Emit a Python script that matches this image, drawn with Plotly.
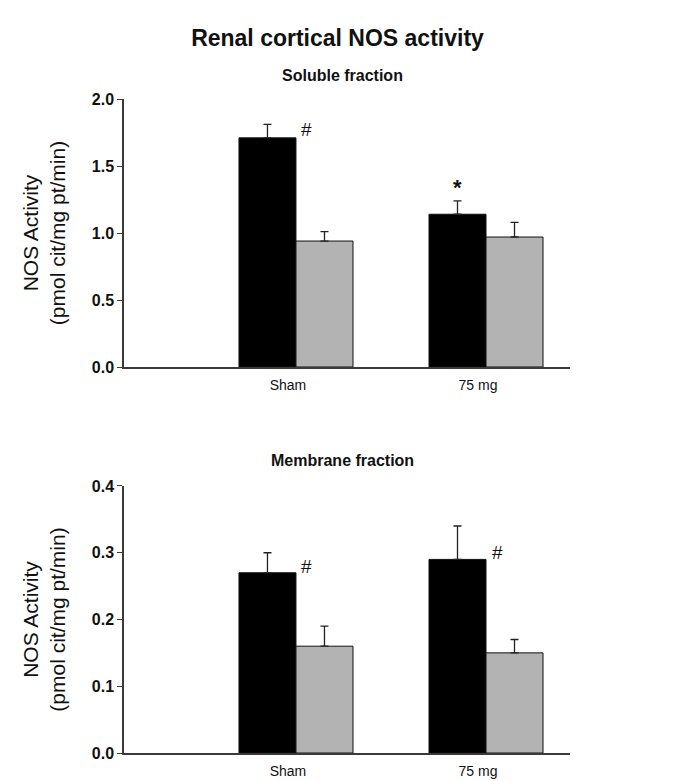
import plotly.graph_objects as go
from plotly.subplots import make_subplots

# ---- data ----
categories = ["Sham", "75 mg"]
cat_pos = [1, 2]

soluble_black = [1.71, 1.14]
soluble_black_err = [0.10, 0.10]
soluble_gray = [0.94, 0.97]
soluble_gray_err = [0.07, 0.11]

membrane_black = [0.27, 0.29]
membrane_black_err = [0.03, 0.05]
membrane_gray = [0.16, 0.15]
membrane_gray_err = [0.03, 0.02]

soluble_ticks = [0.0, 0.5, 1.0, 1.5, 2.0]
membrane_ticks = [0.0, 0.1, 0.2, 0.3, 0.4]

FONT = "Liberation Sans, Arial, sans-serif"
BLACK = "#000000"
GRAY = "#b3b3b3"
AXIS = "#3a3a3a"

fig = make_subplots(rows=2, cols=1, vertical_spacing=0.0)

def add_bars(row, blk, blk_err, gry, gry_err):
    for vals, errs, col in ((blk, blk_err, BLACK), (gry, gry_err, GRAY)):
        fig.add_trace(go.Bar(
            x=cat_pos, y=vals, marker=dict(color=col, line=dict(color="#111111", width=1)),
            error_y=dict(type="data", array=errs, symmetric=False, arrayminus=[0] * len(errs),
                         color="#222222", thickness=1.3, width=4),
            showlegend=False, hoverinfo="skip",
        ), row=row, col=1)

add_bars(1, soluble_black, soluble_black_err, soluble_gray, soluble_gray_err)
add_bars(2, membrane_black, membrane_black_err, membrane_gray, membrane_gray_err)

ytitle = "NOS Activity<br>(pmol cit/mg pt/min)"
top_dom = [0.5902, 1.0]
bot_dom = [0.0, 0.4083]

xcommon = dict(range=[0.095, 2.442], tickvals=cat_pos, ticktext=categories, ticks="",
               showline=True, linecolor=AXIS, linewidth=1.5, showgrid=False, zeroline=False,
               ticklabelshift=-8, ticklabelstandoff=4, automargin=False,
               tickfont=dict(family=FONT, size=14, color="#111"))
ycommon = dict(ticks="outside", ticklen=5, tickcolor=AXIS, tickwidth=1.3,
               showline=True, linecolor=AXIS, linewidth=1.5, showgrid=False, zeroline=False,
               tickfont=dict(family=FONT, size=16, color="#111", weight="bold"),
               title=dict(text=ytitle, font=dict(family=FONT, size=21, color="#111"), standoff=20),
               automargin=False)

fig.update_layout(
    xaxis=dict(domain=[0, 1], anchor="y", **xcommon),
    xaxis2=dict(domain=[0, 1], anchor="y2", **xcommon),
    yaxis=dict(domain=top_dom, range=[0, 2.0], tickvals=soluble_ticks, tickformat=".1f", anchor="x", **ycommon),
    yaxis2=dict(domain=bot_dom, range=[0, 0.4], tickvals=membrane_ticks, tickformat=".1f", anchor="x2", **ycommon),
    barmode="group", bargap=0.4, bargroupgap=0.0,
    width=675, height=781,
    margin=dict(l=124, r=105, t=99, b=28, autoexpand=False),
    plot_bgcolor="white", paper_bgcolor="white",
    title=dict(text="<b>Renal cortical NOS activity</b>", x=0.5, xref="container", xanchor="center",
               y=1 - 38 / 781, yref="container", yanchor="middle",
               font=dict(family=FONT, size=23, color="#111")),
)

# subtitles
fig.add_annotation(text="<b>Soluble fraction</b>", xref="paper", yref="paper", x=0.489, y=(753 - 75) / 654,
                   showarrow=False, font=dict(family=FONT, size=16, color="#111"), yanchor="middle")
fig.add_annotation(text="<b>Membrane fraction</b>", xref="paper", yref="paper", x=0.489, y=(753 - 461) / 654,
                   showarrow=False, font=dict(family=FONT, size=16, color="#111"), yanchor="middle")

# significance marks
marks = [
    ("x", "y", 1.0, soluble_black[0] + soluble_black_err[0] - 0.04, "#", 19, "left", 3),
    ("x", "y", 1.85, soluble_black[1] + soluble_black_err[1] + 0.10, "<b>*</b>", 22, "center", 0),
    ("x2", "y2", 1.0, membrane_black[0] + 0.009, "#", 19, "left", 3),
    ("x2", "y2", 2.0, membrane_black[1] + 0.011, "#", 19, "left", 4),
]
for xr, yr, xv, yv, txt, sz, xa, xs in marks:
    fig.add_annotation(text=txt, xref=xr, yref=yr, x=xv, y=yv, showarrow=False, xanchor=xa, xshift=xs,
                       yanchor="middle", font=dict(family=FONT, size=sz, color="#111"))

fig.write_html("out.html", config={"displayModeBar": False},
               post_script="document.body.style.margin='0';document.body.style.padding='0';")
